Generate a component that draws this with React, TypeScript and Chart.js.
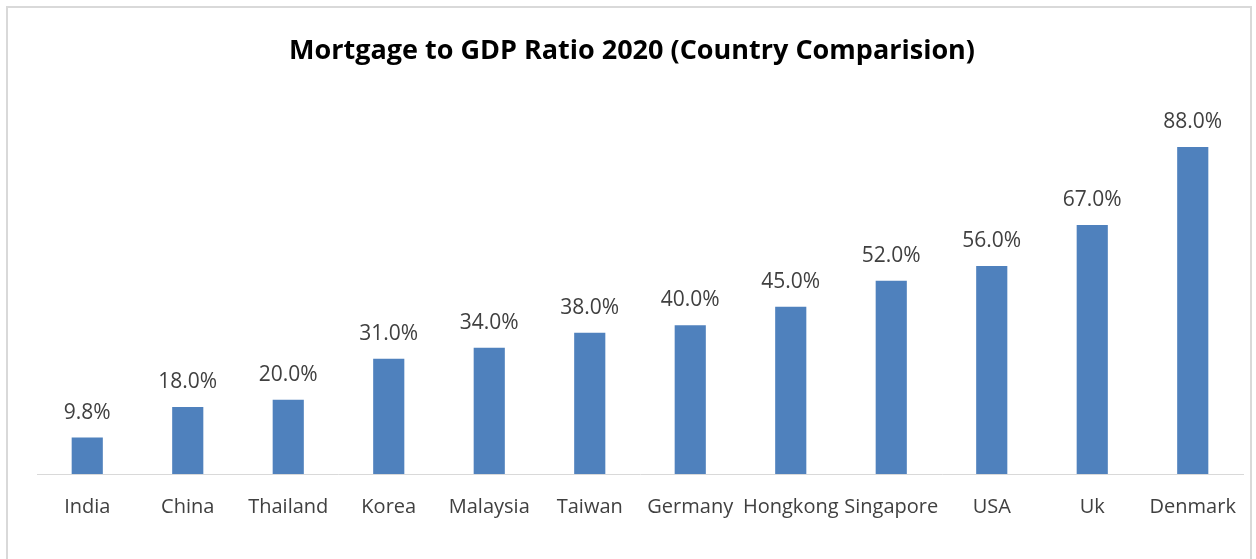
import React, { useEffect, useRef } from "react";
import { Chart, registerables } from "chart.js";

Chart.register(...registerables);

const countries = ["India", "China", "Thailand", "Korea", "Malaysia", "Taiwan", "Germany", "Hongkong", "Singapore", "USA", "Uk", "Denmark"];
const ratios = [9.8, 18.0, 20.0, 31.0, 34.0, 38.0, 40.0, 45.0, 52.0, 56.0, 67.0, 88.0];
const titleText = "Mortgage to GDP Ratio 2020 (Country Comparision)";

const FONT = "'Open Sans', 'Noto Sans', sans-serif";
const CANVAS_W = 1242;
const CANVAS_H = 551;

const valueLabels = {
  id: "valueLabels",
  afterDatasetsDraw(chart: any) {
    const ctx = chart.ctx;
    const meta = chart.getDatasetMeta(0);
    ctx.save();
    ctx.font = `21px ${FONT}`;
    ctx.fillStyle = "#404040";
    ctx.textAlign = "center";
    ctx.textBaseline = "alphabetic";
    meta.data.forEach((bar: any, i: number) => {
      const v = chart.data.datasets[0].data[i] as number;
      ctx.fillText(v.toFixed(1) + "%", bar.x, bar.y - 19);
    });
    ctx.restore();
  },
};

export default function App() {
  const ref = useRef<HTMLCanvasElement | null>(null);
  useEffect(() => {
    if (!ref.current) return;
    const chart = new Chart(ref.current, {
      type: "bar",
      data: {
        labels: countries,
        datasets: [
          {
            data: ratios,
            backgroundColor: "#4F81BD",
            barPercentage: 0.31,
            categoryPercentage: 1,
          },
        ],
      },
      options: {
        animation: false,
        responsive: false,
        maintainAspectRatio: false,
        layout: { padding: { left: 13, right: 7, top: 0, bottom: 0 } },
        plugins: {
          legend: { display: false },
          tooltip: { enabled: false },
          title: {
            display: true,
            text: titleText,
            color: "#000000",
            font: { family: FONT, size: 27, weight: "bold" },
            padding: { top: 27.5, bottom: 34.5 },
          },
        },
        scales: {
          x: {
            grid: { display: false, drawTicks: false },
            border: { display: true, color: "#d9d9d9", width: 1 },
            ticks: { color: "#404040", font: { family: FONT, size: 20 }, padding: 21, autoSkip: false, maxRotation: 0 },
            afterFit: (scale: any) => {
              scale.height = 85;
              scale.paddingLeft = 0;
              scale.paddingRight = 0;
            },
          },
          y: {
            display: true,
            min: 0,
            max: 100,
            grid: { display: false, drawTicks: false },
            border: { display: false },
            ticks: { display: false },
            afterFit: (scale: any) => {
              scale.width = 16;
            },
          },
        },
      },
      plugins: [valueLabels],
    });
    return () => chart.destroy();
  }, []);
  return (
    <div
      style={{
        position: "fixed",
        left: 6,
        top: 6,
        width: CANVAS_W + 4,
        height: 570,
        border: "2px solid #d9d9d9",
        boxSizing: "border-box",
        background: "#fff",
      }}
    >
      <canvas ref={ref} width={CANVAS_W} height={CANVAS_H} style={{ display: "block" }} />
    </div>
  );
}
